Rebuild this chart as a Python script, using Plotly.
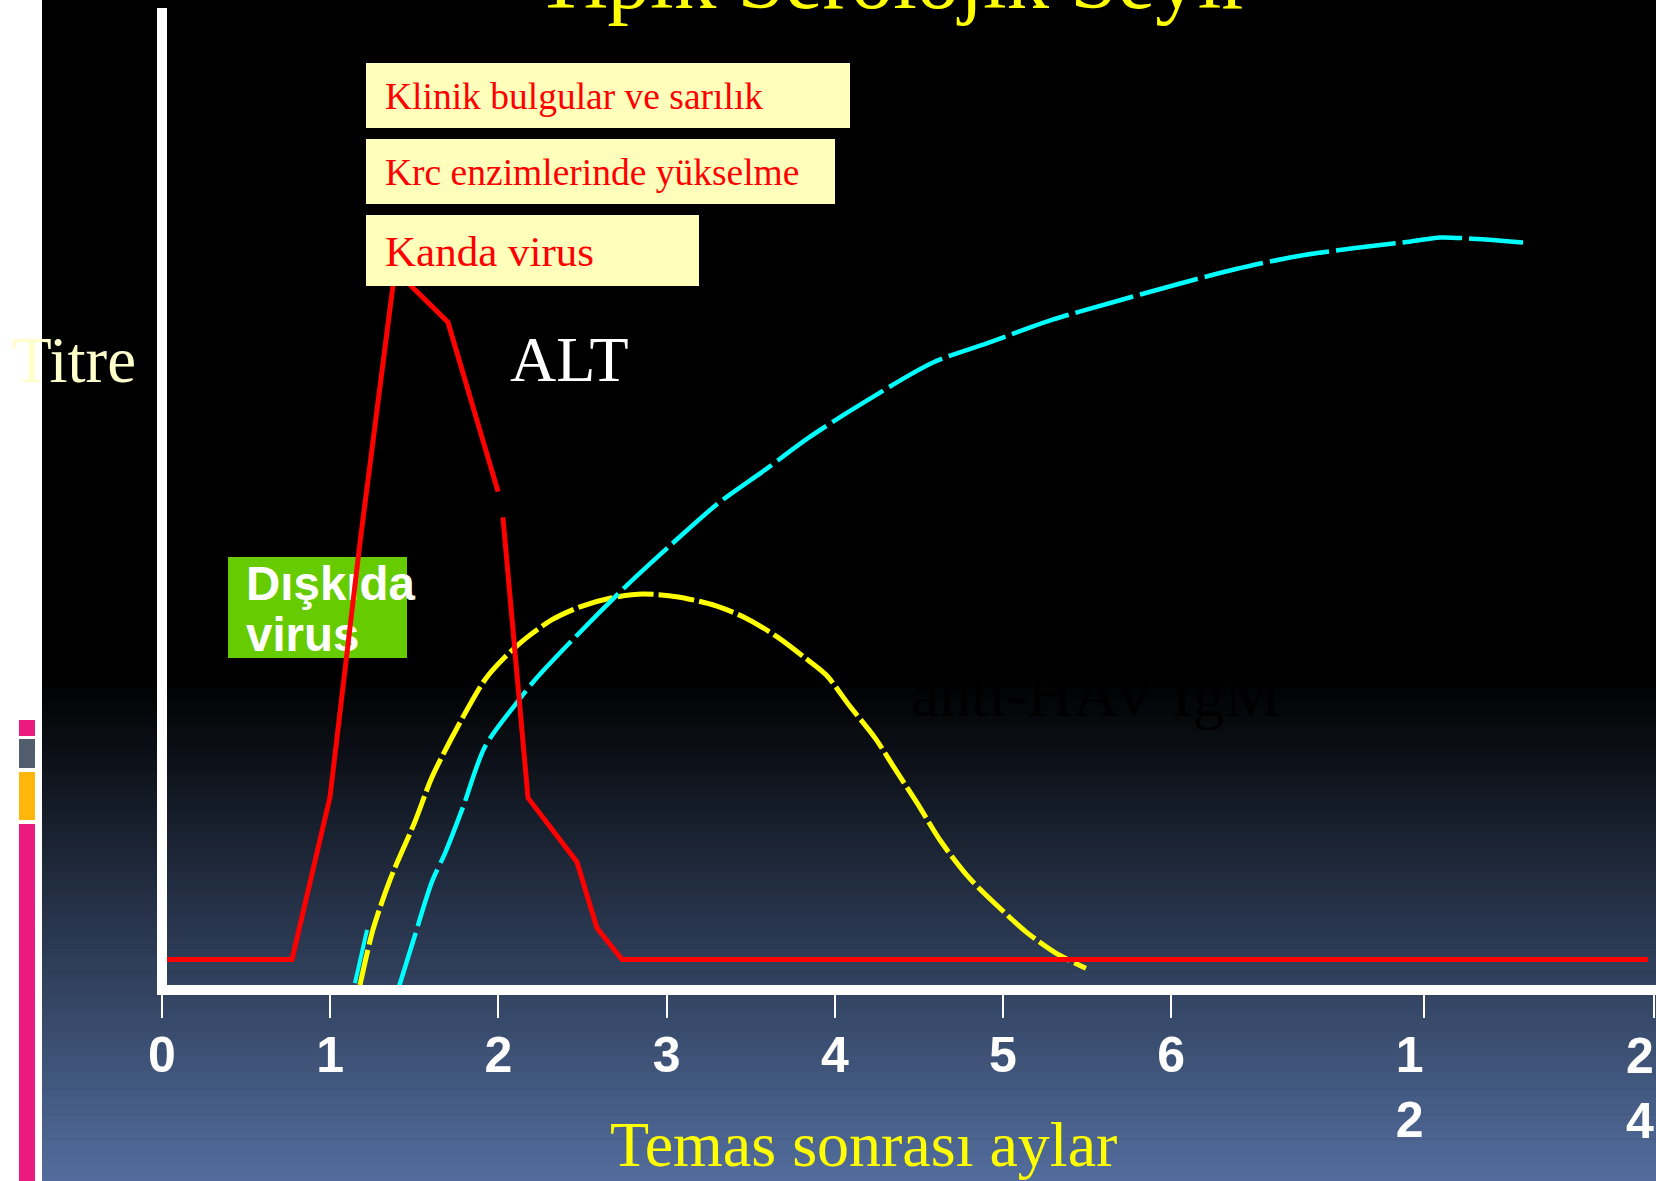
import plotly.graph_objects as go

# ---------------- data ----------------
# x positions are in axis units (one unit per month for 0..6, then 12 and 24 compressed)
tick_pos = [0, 1, 2, 3, 4, 5, 6, 7.5, 8.87]
tick_labels = ["0", "1", "2", "3", "4", "5", "6",
               "1\u00a0\u00a0<br>2\u00a0\u00a0", "2<br>4"]

# Red line (virus in blood / ALT)
red_x = [0.012, 0.773, 0.999, 1.177, 1.385, 1.700, 1.998, None, 2.027, 2.176, 2.467, 2.586, 2.735, 8.835]
red_y = [3.1, 3.1, 19.6, 45.4, 73.1, 67.8, 50.6, None, 48.0, 19.5, 13.0, 6.3, 3.1, 3.1]

# Yellow dashed line (anti-HAV IgM)
igm_x = [1.177, 1.254, 1.356, 1.504, 1.605, 1.754, 1.920, 2.039, 2.170, 2.319, 2.485, 2.669,
         2.860, 3.068, 3.294, 3.478, 3.662, 3.817, 3.948, 4.090, 4.239, 4.352, 4.489, 4.626,
         4.798, 4.982, 5.137, 5.309, 5.493]
igm_y = [0.5, 6.1, 11.2, 17.1, 21.6, 26.6, 31.5, 33.8, 35.8, 37.6, 38.9, 39.8,
         40.2, 39.9, 39.0, 37.7, 35.8, 33.8, 32.0, 28.8, 25.6, 22.6, 19.0, 15.2,
         11.4, 8.3, 5.9, 3.8, 2.2]

# Cyan dashed line (total anti-HAV)
igg_x = [1.403, 1.492, 1.605, 1.683, 1.790, 1.920, 2.111, 2.218, 2.438, 2.765, 3.026, 3.306,
         3.585, 3.847, 4.168, 4.584, 4.929, 5.285, 5.648, 6.005, 6.385, 6.748, 7.081, 7.426,
         7.598, 7.771, 8.092]
igg_y = [0.0, 4.9, 11.0, 13.9, 18.6, 24.7, 29.2, 31.5, 35.5, 41.1, 45.2, 49.4,
         52.8, 56.1, 59.6, 63.7, 65.8, 68.0, 69.8, 71.5, 73.2, 74.5, 75.3, 76.0,
         76.4, 76.3, 75.9]
stub_x = [1.147, 1.219]
stub_y = [0.7, 6.1]

# text labels
title_text = "Tipik Serolojik Seyir"
box_texts = ["Klinik bulgular ve sarılık", "Krc enzimlerinde yükselme", "Kanda virus"]
stool_lines = ["Dışkıda", "virus"]

# ---------------- geometry helpers ----------------
W, H = 1656, 1181
L, T, B = 162, 5, 990          # plot area pixel edges
PW, PH = W - L, B - T
XU = 168.2                      # px per x unit
YU = PH / 100.0                 # px per y unit


def px(xp):
    return (xp - L) / PW


def py(yp):
    return (B - yp) / PH


def dx(xp):
    return (xp - L) / XU


def dy(yp):
    return (B - yp) / YU


shapes = []
# left white strip
shapes.append(dict(type="rect", xref="paper", yref="paper", x0=px(0), x1=px(42), y0=py(H), y1=py(0),
                   fillcolor="white", line=dict(width=0), layer="below"))
# gradient background
y_start, steps = 680, 60
step = (H - y_start) / steps
for i in range(steps):
    y0 = y_start + i * step
    t = (i + 0.5) / steps
    col = "rgb(%d,%d,%d)" % (round(82 * t), round(109 * t), round(157 * t))
    shapes.append(dict(type="rect", xref="paper", yref="paper", x0=px(42), x1=px(W),
                       y0=py(y0 + step + 0.6), y1=py(y0), fillcolor=col, line=dict(width=0), layer="below"))
# decorative side bars
for (a, b, c) in [(720, 736, "#EB1A7E"), (739, 768, "#525E6E"), (772, 820, "#FFB70B"), (824, H, "#EB1A7E")]:
    shapes.append(dict(type="rect", xref="paper", yref="paper", x0=px(19), x1=px(35), y0=py(b), y1=py(a),
                       fillcolor=c, line=dict(width=0), layer="below"))
# green box
shapes.append(dict(type="rect", xref="paper", yref="paper", x0=px(228), x1=px(407), y0=py(658), y1=py(557),
                   fillcolor="#66CC00", line=dict(width=0), layer="below"))
# axes lines
shapes.append(dict(type="line", xref="paper", yref="paper", x0=0, x1=0, y0=py(994), y1=py(8),
                   line=dict(color="white", width=10), layer="above"))
shapes.append(dict(type="line", xref="paper", yref="paper", x0=px(157), x1=1, y0=0, y1=0,
                   line=dict(color="white", width=10), layer="above"))
# yellow label boxes (drawn over the red peak)
for (x0, x1, y0, y1) in [(366, 850, 63, 128), (366, 835, 139, 204), (366, 699, 215, 286)]:
    shapes.append(dict(type="rect", xref="paper", yref="paper", x0=px(x0), x1=px(x1), y0=py(y1), y1=py(y0),
                       fillcolor="#FFFFBB", line=dict(width=0), layer="above"))

fig = go.Figure()

# stool virus text (below the red line)
fig.add_trace(go.Scatter(x=[dx(246), dx(246)], y=[dy(588), dy(639)], mode="text", text=stool_lines,
                         textposition="middle right",
                         textfont=dict(family="Liberation Sans", size=47.5, color="white", weight="bold"),
                         hoverinfo="skip"))
fig.add_trace(go.Scatter(x=igm_x, y=igm_y, mode="lines", line_shape="spline",
                         line=dict(color="#FFFF00", width=5, dash="36px,5px", smoothing=0.8),
                         hoverinfo="skip"))
fig.add_trace(go.Scatter(x=stub_x, y=stub_y, mode="lines",
                         line=dict(color="#00FFFF", width=4), hoverinfo="skip"))
fig.add_trace(go.Scatter(x=igg_x, y=igg_y, mode="lines", line_shape="spline",
                         line=dict(color="#00FFFF", width=4.5, dash="60px,7px", smoothing=0.8),
                         hoverinfo="skip"))
fig.add_trace(go.Scatter(x=red_x, y=red_y, mode="lines",
                         line=dict(color="#FF0000", width=5), hoverinfo="skip"))

serif = "Liberation Serif"
tickfont = dict(family="Liberation Sans", size=50, color="white", weight="bold")
ann = []
ann.append(dict(text=title_text, x=px(892), y=py(-21), xref="paper", yref="paper", xanchor="center",
                yanchor="middle", showarrow=False, font=dict(family=serif, size=85, color="#FFFF00")))
ann.append(dict(text=box_texts[0], x=px(383), y=py(96.5), xref="paper", yref="paper", xanchor="left",
                yanchor="middle", showarrow=False, font=dict(family=serif, size=37.5, color="#FF0000")))
ann.append(dict(text=box_texts[1], x=px(383), y=py(172.5), xref="paper", yref="paper", xanchor="left",
                yanchor="middle", showarrow=False, font=dict(family=serif, size=37.5, color="#FF0000")))
ann.append(dict(text=box_texts[2], x=px(383), y=py(251.5), xref="paper", yref="paper", xanchor="left",
                yanchor="middle", showarrow=False, font=dict(family=serif, size=43, color="#FF0000")))
ann.append(dict(text="Titre", x=px(10), y=py(360), xref="paper", yref="paper", xanchor="left",
                yanchor="middle", showarrow=False, font=dict(family=serif, size=65, color="#FFFFCC")))
ann.append(dict(text="ALT", x=px(508), y=py(360), xref="paper", yref="paper", xanchor="left",
                yanchor="middle", showarrow=False, font=dict(family=serif, size=64, color="white")))
ann.append(dict(text="anti-HAV IgM", x=px(909), y=py(694), xref="paper", yref="paper", xanchor="left",
                yanchor="middle", showarrow=False, font=dict(family=serif, size=63.5, color="#000000")))
ann.append(dict(text="Temas sonrası aylar", x=px(863), y=py(1144), xref="paper", yref="paper",
                xanchor="center", yanchor="middle", showarrow=False,
                font=dict(family=serif, size=64, color="#FFFF00")))
# last tick label, kept inside the page (right-aligned at the axis end)
ann.append(dict(text=tick_labels[-1], x=1.0, y=py(1026), xref="paper", yref="paper",
                xanchor="right", yanchor="top", showarrow=False, font=tickfont))

shown_text = tick_labels[:-1] + [""]

fig.update_layout(
    width=W, height=H, autosize=False,
    margin=dict(l=L, r=0, t=T, b=H - B, pad=0),
    paper_bgcolor="black", plot_bgcolor="rgba(0,0,0,0)",
    showlegend=False, shapes=shapes, annotations=ann,
    xaxis=dict(range=[0, PW / XU], showgrid=False, zeroline=False, showline=False,
               tickmode="array", tickvals=tick_pos, ticktext=shown_text,
               ticks="outside", ticklen=27, tickwidth=2, tickcolor="white",
               ticklabelstandoff=-6, tickfont=tickfont, fixedrange=True),
    yaxis=dict(range=[0, 100], showgrid=False, zeroline=False, showline=False,
               showticklabels=False, ticks="", fixedrange=True),
)

fig.write_html("out.html", config={"displayModeBar": False},
               post_script="document.body.style.margin='0px';document.body.style.overflow='hidden';")
